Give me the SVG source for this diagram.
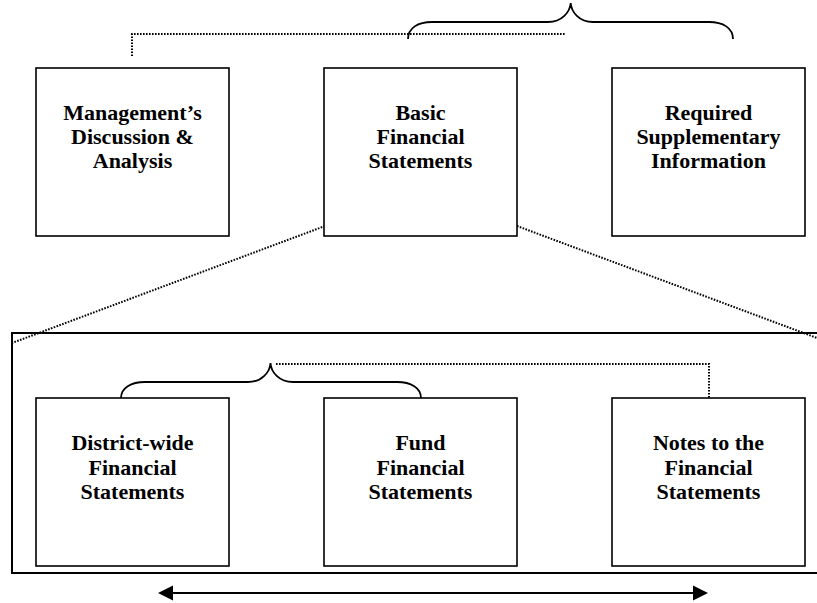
<svg xmlns="http://www.w3.org/2000/svg" width="817" height="603" viewBox="0 0 817 603">
  <style>
    .box { fill: #ffffff; stroke: #000000; stroke-width: 1.6; }
    .frame { fill: none; stroke: #000000; stroke-width: 2; }
    .dot { fill: none; stroke: #000000; stroke-width: 2; stroke-dasharray: 1.6 1.4; }
    .brace { fill: none; stroke: #000000; stroke-width: 1.8; }
    .arrow { fill: none; stroke: #000000; stroke-width: 2; }
    .label { font-family: "Liberation Serif", "Times New Roman", serif; font-weight: bold; font-size: 22px; fill: #000000; text-anchor: middle; }
  </style>
  <rect x="0" y="0" width="817" height="603" fill="#ffffff"/>

  <g id="frame">
    <rect class="frame" x="12" y="333" width="820" height="240"/>
  </g>

  <g id="connectors">
    <polyline class="dot" points="132,56 132,34 565,34"/>
    <path class="brace" d="M408,39 C408,28 418,22 432,22 L548,22 C562,22 570,12 570.7,3 C571.4,12 579,22 593,22 L709,22 C723,22 733,28 733,39"/>
    <line class="dot" x1="325" y1="226" x2="12" y2="343"/>
    <line class="dot" x1="517" y1="226" x2="817" y2="338"/>
    <path class="brace" d="M121,398 C121,388 131,382 145,382 L248,382 C262,382 270,372 270.5,363 C271,372 279,382 293,382 L397,382 C411,382 421,388 421,398"/>
    <polyline class="dot" points="276,364 709,364 709,400"/>
    <line class="arrow" x1="170" y1="593" x2="696" y2="593"/>
    <polygon points="158,593 173,585.5 173,600.5" fill="#000000"/>
    <polygon points="708,593 693,585.5 693,600.5" fill="#000000"/>
  </g>

  <g id="mdna">
    <rect class="box" x="36" y="68" width="193" height="168"/>
    <text class="label" x="132.5" y="120">Management’s</text>
    <text class="label" x="132.5" y="144">Discussion &amp;</text>
    <text class="label" x="132.5" y="168">Analysis</text>
  </g>

  <g id="basic">
    <rect class="box" x="324" y="68" width="193" height="168"/>
    <text class="label" x="420.5" y="120">Basic</text>
    <text class="label" x="420.5" y="144">Financial</text>
    <text class="label" x="420.5" y="168">Statements</text>
  </g>

  <g id="rsi">
    <rect class="box" x="612" y="68" width="193" height="168"/>
    <text class="label" x="708.5" y="120">Required</text>
    <text class="label" x="708.5" y="144">Supplementary</text>
    <text class="label" x="708.5" y="168">Information</text>
  </g>

  <g id="district">
    <rect class="box" x="36" y="398" width="193" height="168"/>
    <text class="label" x="132.5" y="450">District-wide</text>
    <text class="label" x="132.5" y="475">Financial</text>
    <text class="label" x="132.5" y="499">Statements</text>
  </g>

  <g id="fund">
    <rect class="box" x="324" y="398" width="193" height="168"/>
    <text class="label" x="420.5" y="450">Fund</text>
    <text class="label" x="420.5" y="475">Financial</text>
    <text class="label" x="420.5" y="499">Statements</text>
  </g>

  <g id="notes">
    <rect class="box" x="612" y="398" width="193" height="168"/>
    <text class="label" x="708.5" y="450">Notes to the</text>
    <text class="label" x="708.5" y="475">Financial</text>
    <text class="label" x="708.5" y="499">Statements</text>
  </g>
</svg>
